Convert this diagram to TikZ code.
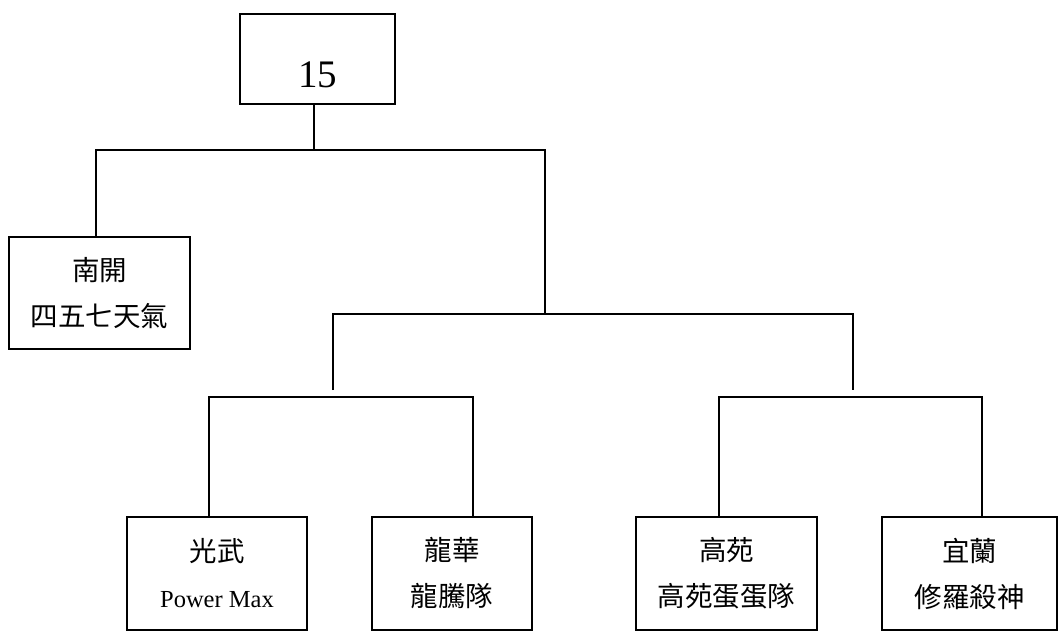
\documentclass[tikz,border=0pt]{standalone}
\usepackage{fontspec}
\setmainfont{Liberation Serif}
\newfontfamily\cjk{Noto Sans CJK TC}
\usetikzlibrary{%
	calc,%
	positioning%
}
\tikzset{
	team/.style={draw,line width=1.2pt,align=center,inner sep=0pt,minimum height=113pt,font=\cjk\fontsize{27.5}{46}\selectfont},
	latin/.style={font=\rmfamily\fontsize{23}{46}\selectfont}
}

\begin{document}
\begin{tikzpicture}[x=1pt,y=-1pt,line width=1.2pt]
		\useasboundingbox (0,0) rectangle (1061,635);
		\node[draw,inner sep=0pt,minimum width=155pt,minimum height=90pt,text height=56pt,text depth=0pt,font=\rmfamily\fontsize{39}{39}\selectfont] (root) at (317.5,59) {15};
		\node[team,minimum width=181pt,minimum height=112pt] (nankai) at (99.5,293) {南開\\四五七天氣};
		\node[team,minimum width=180pt] (guangwu) at (217,573.5) {光武\\{\rmfamily\fontsize{24.5}{46}\selectfont Power Max}};
		\node[team,minimum width=160pt] (longhua) at (452,573.5) {龍華\\龍騰隊};
		\node[team,minimum width=181pt] (gaoyuan) at (726.5,573.5) {高苑\\高苑蛋蛋隊};
		\node[team,minimum width=175pt] (yilan) at (969.5,573.5) {宜蘭\\修羅殺神};
		
		\coordinate (j0) at (314,150);
		\coordinate (jl) at (96,150);
		\coordinate (jr) at (545,150);
		\coordinate (m) at (545,314);
		\coordinate (ma) at (333,314);
		\coordinate (mb) at (853,314);
		\coordinate (ga) at (209,397);
		\coordinate (lh) at (473,397);
		\coordinate (ka) at (719,397);
		\coordinate (yi) at (982,397);
		
		\draw (j0 |- root.south) -- (j0);
		\draw (jl |- nankai.north) -- (jl) -- (jr) -- (m);
		\draw ($(ma)+(0,76)$) -- (ma) -- (mb) -- ++(0,76);
		\draw (ga |- guangwu.north) -- (ga) -- (lh) -- (lh |- longhua.north);
		\draw (ka |- gaoyuan.north) -- (ka) -- (yi) -- (yi |- yilan.north);
	\end{tikzpicture}
\end{document}
